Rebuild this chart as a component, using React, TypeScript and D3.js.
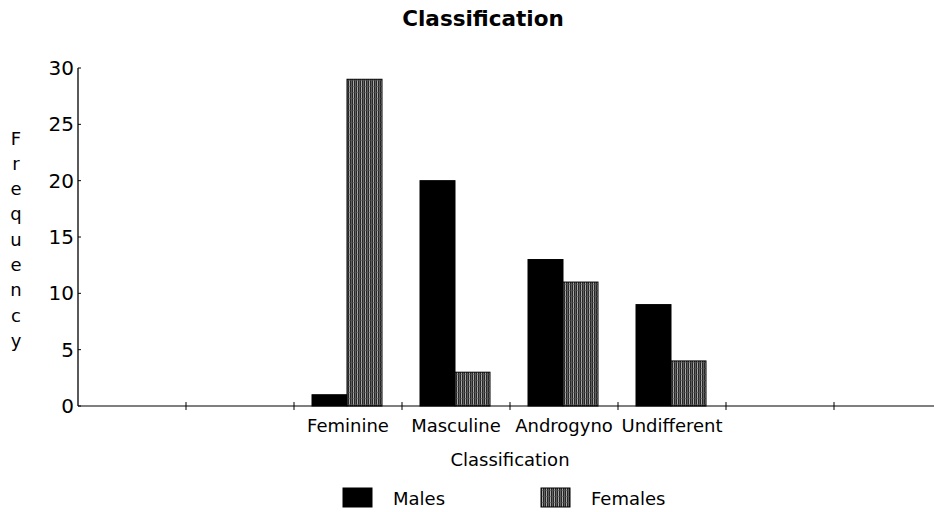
import React from 'react'
import * as d3 from 'd3'

const categories = ['Feminine', 'Masculine', 'Androgyno', 'Undifferent']
const series = ['Males', 'Females']
const males = [1, 20, 13, 9]
const females = [29, 3, 11, 4]
const yTicks = [0, 5, 10, 15, 20, 25, 30]
// the category axis has two empty slots on each side
const slots = ['', '', ...categories, '', '']

const W = 934
const H = 512
const left = 78
const bandW = 108
const font = "'DejaVu Sans', Arial, sans-serif"

export default function App() {
  const x = d3
    .scaleBand<number>()
    .domain(d3.range(slots.length))
    .range([left, left + bandW * slots.length])
  const inner = d3.scaleBand<string>().domain(series).range([18, 88])
  const y = d3.scaleLinear().domain([0, 30]).range([406, 68])
  const values = [males, females]
  const fills = ['#000', 'url(#hatch)']

  const letters = 'Frequency'.split('')

  return (
    <svg width={W} height={H} style={{ position: 'absolute', left: 0, top: 0 }} fontFamily={font}>
      <defs>
        <pattern id="hatch" width={4} height={6} patternUnits="userSpaceOnUse">
          <rect width={4} height={6} fill="#262626" />
          <rect x={1} width={1} height={6} fill="#a8a8a8" />
          <rect x={3} width={0.7} height={6} fill="#7a7a7a" />
          <rect x={0} y={2} width={4} height={0.6} fill="#555" />
        </pattern>
      </defs>
      <rect width={W} height={H} fill="#fff" />

      <text x={483} y={26} textAnchor="middle" fontSize={21.5} fontWeight="bold">
        Classification
      </text>

      {/* y axis label, one letter per line */}
      {letters.map((c, i) => (
        <text key={i} x={16} y={138 + i * 25.3} textAnchor="middle" dominantBaseline="central" fontSize={18}>
          {c}
        </text>
      ))}

      {/* bars */}
      {categories.map((cat, ci) =>
        series.map((s, si) => {
          const x0 = (x(ci + 2) ?? 0) + (inner(s) ?? 0)
          const v = values[si][ci]
          return (
            <rect
              key={cat + s}
              x={x0}
              y={y(v)}
              width={inner.bandwidth()}
              height={y(0) - y(v)}
              fill={fills[si]}
              stroke="#000"
              strokeWidth={1}
            />
          )
        })
      )}

      {/* y axis */}
      <line x1={left} x2={left} y1={y(30)} y2={y(0)} stroke="#000" strokeWidth={1.3} />
      {yTicks.map((t) => (
        <g key={t}>
          <line x1={left} x2={left + 3} y1={y(t)} y2={y(t)} stroke="#000" />
          <text x={left - 4} y={y(t)} textAnchor="end" dominantBaseline="central" fontSize={20}>
            {t}
          </text>
        </g>
      ))}

      {/* x axis */}
      <line x1={left} x2={W} y1={y(0)} y2={y(0)} stroke="#000" strokeWidth={1.2} />
      {d3.range(1, slots.length).map((i) => (
        <line key={i} x1={x(i)} x2={x(i)} y1={y(0) - 4} y2={y(0) + 4} stroke="#000" />
      ))}
      {slots.map((s, i) =>
        s ? (
          <text
            key={i}
            x={(x(i) ?? 0) + bandW / 2}
            y={425}
            textAnchor="middle"
            dominantBaseline="central"
            fontSize={18}
          >
            {s}
          </text>
        ) : null
      )}
      <text
        x={((x(2) ?? 0) + (x(6) ?? 0)) / 2}
        y={459}
        textAnchor="middle"
        dominantBaseline="central"
        fontSize={18}
      >
        Classification
      </text>

      {/* legend */}
      {series.map((s, i) => (
        <g key={s} transform={`translate(${343 + i * 198},488)`}>
          <rect width={29} height={19} fill={fills[i]} stroke="#000" />
          <text x={50} y={10} dominantBaseline="central" fontSize={18}>
            {s}
          </text>
        </g>
      ))}
    </svg>
  )
}
